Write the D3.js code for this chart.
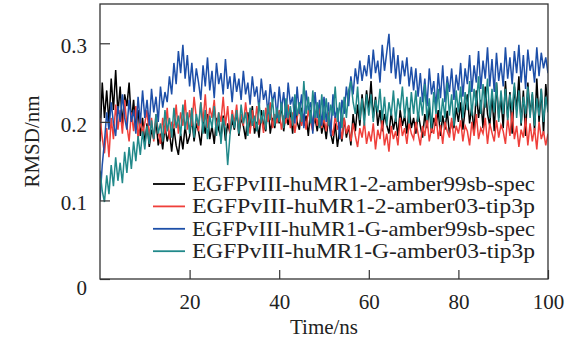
<!DOCTYPE html>
<html><head><meta charset="utf-8">
<script src="https://cdn.jsdelivr.net/npm/d3@7"></script>
<style>
html,body{margin:0;padding:0;background:#fff;}
svg{display:block;}
text{font-family:"Liberation Serif","Times New Roman",serif !important;fill:#222;}
</style></head>
<body>
<svg id="chart" width="581" height="351"></svg>
<script>
// time step 0.5 ns, 0..100 ns
const seriesNames = [
  "EGFPvIII-huMR1-2-amber99sb-spec",
  "EGFPvIII-huMR1-2-amber03-tip3p",
  "EGFPvIII-huMR1-G-amber99sb-spec",
  "EGFPvIII-huMR1-G-amber03-tip3p"
];
const seriesColors = ["#000000", "#ef3f3a", "#1d4fa8", "#21898a"];
const xTicks = [20, 40, 60, 80, 100];
const yTicks = [0, 0.1, 0.2, 0.3];
const yTickLabels = ["0", "0.1", "0.2", "0.3"];

const black = [
0.175,0.250,0.205,0.240,0.198,0.255,0.215,0.266,0.210,0.245,0.195,0.235,0.220,0.250,0.200,0.228,0.190,0.215,0.182,0.205,
0.172,0.198,0.168,0.190,0.178,0.202,0.170,0.185,0.165,0.195,0.175,0.188,0.162,0.192,0.170,0.158,0.185,0.165,0.195,0.172,
0.182,0.205,0.175,0.198,0.188,0.170,0.202,0.185,0.210,0.178,0.195,0.172,0.205,0.190,0.180,0.208,0.176,0.198,0.186,0.202,
0.190,0.215,0.182,0.205,0.195,0.178,0.212,0.190,0.220,0.185,0.200,0.180,0.215,0.196,0.188,0.222,0.185,0.205,0.192,0.212,
0.198,0.222,0.188,0.210,0.196,0.215,0.185,0.225,0.200,0.190,0.218,0.195,0.208,0.182,0.215,0.195,0.205,0.188,0.212,0.185,
0.200,0.178,0.205,0.185,0.172,0.198,0.168,0.190,0.175,0.205,0.180,0.195,0.170,0.210,0.188,0.222,0.195,0.235,0.205,0.240,
0.215,0.252,0.205,0.232,0.195,0.215,0.188,0.210,0.196,0.185,0.212,0.190,0.205,0.182,0.215,0.195,0.208,0.185,0.218,0.192,
0.205,0.185,0.212,0.195,0.180,0.210,0.192,0.220,0.186,0.205,0.195,0.215,0.182,0.208,0.190,0.214,0.185,0.200,0.192,0.218,
0.200,0.225,0.190,0.215,0.235,0.198,0.220,0.185,0.240,0.205,0.228,0.192,0.245,0.210,0.195,0.235,0.188,0.250,0.205,0.230,
0.192,0.252,0.205,0.238,0.185,0.245,0.215,0.258,0.195,0.240,0.182,0.250,0.210,0.235,0.188,0.255,0.200,0.242,0.185,0.248,
0.220];
const red = [
0.205,0.180,0.160,0.192,0.155,0.205,0.178,0.222,0.190,0.215,0.185,0.228,0.195,0.175,0.212,0.188,0.220,0.178,0.205,0.185,
0.198,0.215,0.180,0.205,0.175,0.210,0.188,0.172,0.205,0.185,0.218,0.178,0.200,0.192,0.222,0.185,0.212,0.195,0.228,0.190,
0.215,0.195,0.232,0.205,0.188,0.225,0.200,0.235,0.192,0.218,0.205,0.228,0.190,0.212,0.200,0.232,0.195,0.220,0.185,0.215,
0.198,0.222,0.188,0.210,0.195,0.225,0.200,0.185,0.215,0.192,0.220,0.196,0.208,0.186,0.218,0.200,0.225,0.192,0.210,0.198,
0.215,0.190,0.208,0.198,0.222,0.192,0.212,0.186,0.205,0.218,0.195,0.210,0.190,0.215,0.200,0.188,0.212,0.195,0.220,0.192,
0.205,0.188,0.212,0.195,0.182,0.208,0.190,0.200,0.178,0.205,0.185,0.196,0.175,0.198,0.182,0.168,0.192,0.180,0.200,0.172,
0.188,0.175,0.198,0.165,0.190,0.178,0.202,0.170,0.185,0.162,0.195,0.178,0.188,0.170,0.205,0.182,0.192,0.172,0.198,0.185,
0.178,0.200,0.185,0.170,0.195,0.182,0.205,0.175,0.192,0.185,0.210,0.178,0.196,0.172,0.200,0.188,0.180,0.205,0.176,0.195,
0.185,0.202,0.175,0.195,0.188,0.170,0.200,0.182,0.210,0.178,0.192,0.185,0.205,0.172,0.198,0.186,0.175,0.202,0.180,0.196,
0.188,0.172,0.205,0.182,0.212,0.178,0.195,0.168,0.190,0.180,0.205,0.170,0.198,0.175,0.192,0.165,0.200,0.178,0.188,0.170,
0.185];
const blue = [
0.100,0.145,0.175,0.212,0.190,0.225,0.198,0.182,0.220,0.200,0.235,0.205,0.190,0.228,0.200,0.215,0.185,0.232,0.198,0.240,
0.205,0.228,0.195,0.242,0.212,0.232,0.200,0.245,0.218,0.238,0.225,0.258,0.235,0.275,0.248,0.290,0.262,0.298,0.255,0.285,
0.245,0.275,0.238,0.268,0.250,0.228,0.272,0.245,0.282,0.240,0.265,0.230,0.275,0.248,0.262,0.235,0.280,0.242,0.258,0.225,
0.262,0.238,0.255,0.228,0.265,0.235,0.250,0.222,0.258,0.232,0.245,0.215,0.255,0.228,0.240,0.210,0.248,0.225,0.238,0.205,
0.245,0.215,0.238,0.205,0.250,0.222,0.232,0.198,0.245,0.210,0.235,0.192,0.240,0.215,0.225,0.185,0.238,0.205,0.228,0.195,
0.232,0.200,0.225,0.182,0.235,0.205,0.218,0.178,0.228,0.210,0.245,0.220,0.258,0.235,0.268,0.248,0.278,0.252,0.272,0.258,
0.285,0.255,0.292,0.262,0.278,0.250,0.298,0.265,0.288,0.312,0.262,0.295,0.255,0.285,0.248,0.278,0.258,0.282,0.245,0.270,
0.240,0.268,0.232,0.262,0.225,0.255,0.220,0.268,0.235,0.252,0.218,0.262,0.230,0.272,0.225,0.258,0.238,0.268,0.228,0.260,
0.240,0.275,0.232,0.268,0.248,0.285,0.238,0.272,0.250,0.290,0.242,0.278,0.255,0.295,0.245,0.280,0.238,0.288,0.252,0.275,
0.245,0.295,0.255,0.282,0.248,0.290,0.262,0.298,0.250,0.285,0.242,0.292,0.265,0.278,0.250,0.295,0.258,0.288,0.268,0.282,
0.262];
const teal = [
0.138,0.112,0.098,0.132,0.108,0.145,0.118,0.155,0.125,0.148,0.122,0.162,0.135,0.168,0.140,0.175,0.150,0.182,0.158,0.188,
0.165,0.195,0.172,0.202,0.178,0.210,0.185,0.198,0.175,0.215,0.188,0.205,0.180,0.218,0.192,0.208,0.182,0.222,0.190,0.212,
0.185,0.218,0.180,0.210,0.195,0.225,0.185,0.215,0.178,0.208,0.192,0.220,0.182,0.212,0.172,0.205,0.190,0.145,0.182,0.210,
0.192,0.215,0.185,0.222,0.198,0.212,0.182,0.218,0.195,0.208,0.188,0.225,0.198,0.215,0.190,0.222,0.202,0.230,0.195,0.218,
0.200,0.225,0.192,0.230,0.205,0.220,0.195,0.235,0.208,0.225,0.200,0.252,0.210,0.232,0.198,0.240,0.205,0.225,0.192,0.235,
0.202,0.230,0.195,0.222,0.208,0.245,0.200,0.225,0.192,0.232,0.205,0.240,0.252,0.225,0.210,0.245,0.202,0.230,0.195,0.235,
0.208,0.235,0.200,0.228,0.212,0.242,0.202,0.232,0.195,0.225,0.208,0.240,0.200,0.230,0.215,0.245,0.205,0.232,0.198,0.238,
0.210,0.240,0.200,0.232,0.208,0.248,0.202,0.230,0.192,0.238,0.210,0.242,0.200,0.230,0.205,0.250,0.208,0.235,0.195,0.240,
0.212,0.245,0.205,0.238,0.215,0.252,0.208,0.242,0.220,0.258,0.210,0.248,0.218,0.255,0.205,0.242,0.212,0.250,0.200,0.240,
0.210,0.242,0.202,0.235,0.215,0.250,0.205,0.240,0.198,0.232,0.210,0.245,0.205,0.238,0.195,0.230,0.208,0.242,0.200,0.232,
0.212];
const timeStep = 0.5;
const allSeries = [black, red, blue, teal];

const svg = d3.select("#chart");
const m = {left:100, top:4, right:548, bottom:279};
const x = d3.scaleLinear().domain([0,100]).range([m.left, m.right]);
const y = d3.scaleLinear().domain([0,0.35]).range([m.bottom, m.top]);

svg.append("clipPath").attr("id","clip").append("rect")
  .attr("x",m.left).attr("y",m.top).attr("width",m.right-m.left).attr("height",m.bottom-m.top);

const line = d3.line().x((d,i)=>x(i*timeStep)).y(d=>y(d));
const lg = svg.append("g").attr("clip-path","url(#clip)");
allSeries.forEach((s,k)=>{
  lg.append("path").datum(s).attr("d",line)
    .attr("fill","none").attr("stroke",seriesColors[k])
    .attr("stroke-width",1.5).attr("stroke-linejoin","miter");
});

// frame
svg.append("rect").attr("x",m.left).attr("y",m.top)
  .attr("width",m.right-m.left).attr("height",m.bottom-m.top)
  .attr("fill","none").attr("stroke","#333").attr("stroke-width",1.3);

// x axis (inward ticks)
const xAxis = d3.axisBottom(x).tickValues(xTicks).tickSizeInner(-9).tickSizeOuter(0).tickPadding(15);
const gx = svg.append("g").attr("transform",`translate(0,${m.bottom})`).call(xAxis);
gx.select(".domain").remove();
gx.selectAll(".tick line").attr("stroke","#333").attr("stroke-width",1.2);
gx.selectAll(".tick text").style("font-size","21px").style("fill","#222");

// y axis (inward ticks)
const yAxis = d3.axisLeft(y).tickValues(yTicks).tickFormat((d,i)=>yTickLabels[i])
  .tickSizeInner(-10).tickSizeOuter(0).tickPadding(13);
const gy = svg.append("g").attr("transform",`translate(${m.left},0)`).call(yAxis);
gy.select(".domain").remove();
gy.selectAll(".tick line").attr("stroke","#333").attr("stroke-width",1.2);
gy.selectAll(".tick text").style("font-size","21px").style("fill","#222")
  .attr("dy",(d)=> d===0 ? "0.75em" : "0.45em");

// axis titles
svg.append("text").attr("x",(m.left+m.right)/2).attr("y",334)
  .attr("text-anchor","middle").style("font-size","21px").text("Time/ns");
svg.append("text").attr("transform",`translate(39,${(m.top+m.bottom)/2}) rotate(-90)`)
  .attr("text-anchor","middle").style("font-size","21px").text("RMSD/nm");

// legend
const leg = svg.append("g");
seriesNames.forEach((n,i)=>{
  const yy = 184 + i*22.4;
  leg.append("line").attr("x1",153).attr("x2",185).attr("y1",yy).attr("y2",yy)
    .attr("stroke",seriesColors[i]).attr("stroke-width",1.8);
  leg.append("text").attr("x",192).attr("y",yy+7).style("font-size","21px")
    .attr("textLength",343).attr("lengthAdjust","spacingAndGlyphs").text(n);
});
</script>
</body></html>
